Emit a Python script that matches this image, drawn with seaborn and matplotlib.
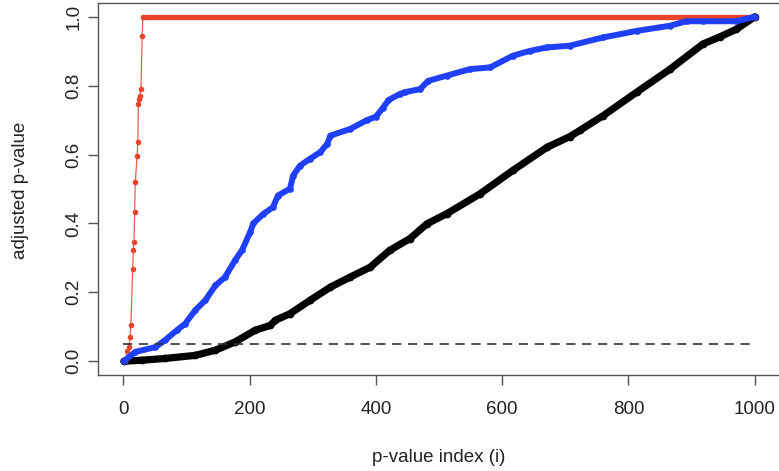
import matplotlib
matplotlib.use("Agg")
import matplotlib.pyplot as plt
import seaborn as sns
import pandas as pd

# ---- data ----
black_idx = [1, 30, 66, 114, 146, 177, 209, 233, 241, 264, 296, 328, 359, 391, 422,
             454, 481, 512, 565, 617, 671, 707, 723, 760, 813, 866, 918, 945, 971, 1000]
black_val = [0.0, 0.003, 0.008, 0.017, 0.032, 0.056, 0.09, 0.104, 0.119, 0.138, 0.177,
             0.215, 0.244, 0.273, 0.322, 0.356, 0.399, 0.428, 0.486, 0.554, 0.621,
             0.652, 0.670, 0.713, 0.781, 0.848, 0.921, 0.942, 0.964, 1.0]

blue_idx = [1, 19, 51, 66, 85, 98, 114, 130, 146, 161, 177, 188, 201, 206, 222, 237,
            245, 264, 269, 280, 296, 312, 323, 328, 359, 386, 400, 411, 420, 438, 446,
            470, 483, 512, 549, 581, 617, 644, 671, 707, 760, 813, 866, 892, 918, 971, 1000]
blue_val = [0.0, 0.027, 0.041, 0.061, 0.09, 0.109, 0.148, 0.177, 0.22, 0.244, 0.293,
            0.322, 0.375, 0.40, 0.428, 0.447, 0.481, 0.501, 0.539, 0.568, 0.588, 0.607,
            0.631, 0.655, 0.674, 0.70, 0.71, 0.735, 0.758, 0.776, 0.781, 0.79, 0.814,
            0.829, 0.848, 0.853, 0.887, 0.901, 0.911, 0.916, 0.94, 0.959, 0.974, 0.987,
            0.987, 0.987, 1.0]

red_idx = [3, 6, 9, 11, 12, 15, 16, 17, 18, 19, 22, 23, 24, 25, 26, 28, 30, 31, 1000]
red_val = [0.0, 0.03, 0.04, 0.07, 0.104, 0.269, 0.322, 0.346, 0.433, 0.52, 0.597,
           0.636, 0.747, 0.761, 0.77, 0.79, 0.945, 1.0, 1.0]

alpha_level = 0.05
x_ticks = [0, 200, 400, 600, 800, 1000]
y_ticks = [0.0, 0.2, 0.4, 0.6, 0.8, 1.0]
x_label = "p-value index (i)"
y_label = "adjusted p-value"

# ---- style ----
sns.set_style("white")
plt.rcParams["font.family"] = ["Liberation Sans", "DejaVu Sans"]

RED = "#E8432B"
BLUE = "#1F3FFB"
BLACK = "#000000"
FRAME = "#555555"

fig = plt.figure(figsize=(7.79, 4.71), dpi=100)
ax = fig.add_axes([98 / 779, (471 - 375) / 471, 682 / 779, 372 / 471])

df_black = pd.DataFrame({"i": black_idx, "p": black_val})
df_blue = pd.DataFrame({"i": blue_idx, "p": blue_val})
df_red = pd.DataFrame({"i": red_idx, "p": red_val})
df_red_flat = df_red[df_red["p"] >= 1.0]

# black (raw p-values), dense -> thick
sns.lineplot(data=df_black, x="i", y="p", ax=ax, color=BLACK, linewidth=5.2,
             estimator=None, sort=False, solid_capstyle="round", solid_joinstyle="round")
sns.lineplot(data=df_black, x="i", y="p", ax=ax, color=BLACK, linewidth=0,
             marker="o", markersize=5.6, markeredgewidth=0, estimator=None, sort=False)

# red (Bonferroni): thin line with points + dense flat part
sns.lineplot(data=df_red, x="i", y="p", ax=ax, color=RED, linewidth=0.9, alpha=0.85,
             estimator=None, sort=False)
sns.lineplot(data=df_red_flat, x="i", y="p", ax=ax, color=RED, linewidth=3.8,
             estimator=None, sort=False, solid_capstyle="round")
sns.lineplot(data=df_red, x="i", y="p", ax=ax, color=RED, linewidth=0,
             marker="o", markersize=4.0, markeredgewidth=0, estimator=None, sort=False)

# blue (BH), dense -> thick
sns.lineplot(data=df_blue, x="i", y="p", ax=ax, color=BLUE, linewidth=4.3,
             estimator=None, sort=False, solid_capstyle="round", solid_joinstyle="round")
sns.lineplot(data=df_blue, x="i", y="p", ax=ax, color=BLUE, linewidth=0,
             marker="o", markersize=4.8, markeredgewidth=0, estimator=None, sort=False)

# threshold line
ax.hlines(alpha_level, min(x_ticks), max(x_ticks), colors="#333333",
          linestyles=(0, (5.5, 4.0)), linewidth=1.2)

# ---- axes ----
ax.set_xlim(-40, 1040)
ax.set_ylim(-0.04, 1.04)
ax.set_xticks(x_ticks)
ax.set_xticklabels([str(t) for t in x_ticks])
ax.set_yticks(y_ticks)
ax.set_yticklabels([f"{t:.1f}" for t in y_ticks], rotation=90, va="center")

for s in ax.spines.values():
    s.set_visible(True)
    s.set_color(FRAME)
    s.set_linewidth(1.0)

ax.tick_params(axis="both", direction="out", length=7, width=1, color=FRAME,
               labelsize=13.5, labelcolor="#222222", bottom=True, left=True,
               top=False, right=False)
ax.tick_params(axis="x", pad=12)
ax.tick_params(axis="y", pad=4)

ax.set_xlabel(x_label, fontsize=13.5, color="#222222")
ax.set_ylabel(y_label, fontsize=13.5, color="#222222")
ax.xaxis.set_label_coords(0.5, -0.223)
ax.yaxis.set_label_coords(-0.114, 0.497)
ax.xaxis.label.set_va("center")
ax.yaxis.label.set_va("center")

fig.savefig("out.png", dpi=100)
